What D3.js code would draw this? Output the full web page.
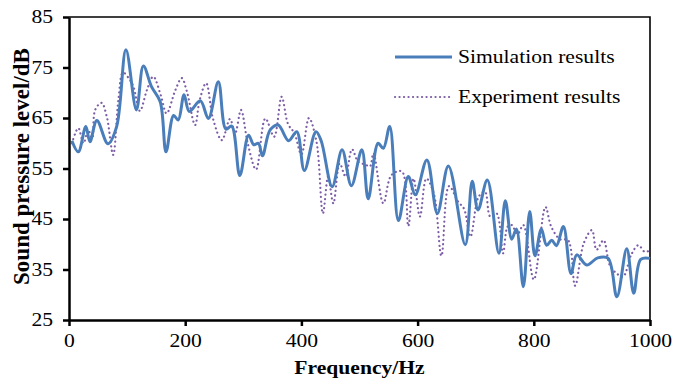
<!DOCTYPE html>
<html>
<head>
<meta charset="utf-8">
<script src="https://cdn.jsdelivr.net/npm/d3@7"></script>
<style>
  body { margin: 0; background: #fff; }
  text { font-family: "Liberation Serif", "Times New Roman", serif; fill: #000; }
</style>
</head>
<body>
<svg id="chart" width="673" height="382"></svg>
<script>
// frequency (Hz) / sound pressure level (dB)
const simFreq = [5,16,29,36,48,67,82,98,116,128,142,157,167,180,188,198,207,226,240,257,270,280,294,309,318,326,333,346,360,378,392,405,425,434,453,470,486,504,515,532,541,552,567,584,596,616,634,653,682,694,704,720,740,751,762,770,782,793,802,813,822,831,839,851,864,874,891,910,928,943,960,972,984,1000]
const simLevel = [60.5,58.3,63.3,60.3,64.5,59.9,63.3,78.5,66.6,75.3,71.2,68.2,58.3,65.5,64.6,69.6,66.3,68.4,64.9,72.2,62.8,63.4,53.6,61.6,59.7,60,57.5,62.6,63.6,60.5,62.3,54.6,62.3,60.5,51.4,58.7,51.6,58.7,49,60,59,63.3,44.7,53.4,49.8,56.7,46.1,55.5,39.9,52.5,46.8,52.7,38.2,48.6,41,43,31.6,46.5,37.7,43,39.8,40.8,39.7,43.5,34.2,37.9,35.9,37.3,37.2,29.6,39.1,30.3,37,37.2]

const expFreq = [5,16,25,33,40,45,56,65,76,85,93,105,111,122,134,145,158,168,183,194,203,217,225,236,248,263,277,286,296,308,322,338,353,366,377,388,400,413,426,437,446,455,466,476,487,498,510,518,524,541,555,573,584,593,604,615,628,641,654,670,680,691,705,716,725,736,747,755,762,772,782,800,820,830,845,859,871,886,900,908,920,931,945,954,968,980,991,1000]
const expLevel = [60,63,60,62.6,61,66.6,68,65.3,57.7,68.6,74,72.5,71.2,66.4,70.5,73.2,69.5,65.9,70.5,72.9,70.2,63.6,68.6,71.9,64.8,60.6,64.8,62,66.6,59.8,54.8,64.9,61.3,69.2,63.8,62,57.8,65,60.3,46.1,53.4,48.1,56,53.4,58.8,56.3,55.8,55.4,58,48.1,53.7,54.4,43.6,53,45.5,53,50,37.7,51.5,48.4,47,41.5,49.4,50.4,45.5,46.1,38.2,43.5,43.8,42,43.8,33,47.4,43.5,41,40.8,31.8,40.2,42.8,38.9,40.8,35.8,34,33.6,38,39.8,38.5,38.8]

const xTicks = [0,200,400,600,800,1000]
const yTicks = [25,35,45,55,65,75,85]
const seriesNames = ["Simulation results", "Experiment results"]

const simColor = "#4a7ebb"
const expColor = "#7d5ea6"
const stretch = 1.2   // the original text is wider than plain Times

const svg = d3.select("#chart")
const margin = {top: 17, right: 23, bottom: 62, left: 69}
const width = 673 - margin.left - margin.right
const height = 382 - margin.top - margin.bottom
const g = svg.append("g").attr("transform", "translate(" + margin.left + "," + margin.top + ")")

const x = d3.scaleLinear().domain([0, 1000]).range([0, width])
const y = d3.scaleLinear().domain([25, 85]).range([height, 0])

const sim = simFreq.map((f, i) => ({f, v: simLevel[i]}))
const exp = expFreq.map((f, i) => ({f, v: expLevel[i]}))

const line = d3.line()
    .curve(d3.curveCatmullRom.alpha(0.5))
    .x(d => x(d.f))
    .y(d => y(d.v))

// frame (top and right)
g.append("path")
    .attr("d", "M0,0H" + width + "V" + height)
    .attr("fill", "none")
    .attr("stroke", "#000")
    .attr("stroke-width", 1.6)

g.append("path")
    .datum(exp)
    .attr("d", line)
    .attr("fill", "none")
    .attr("stroke", expColor)
    .attr("stroke-width", 2.2)
    .attr("stroke-linecap", "round")
    .attr("stroke-dasharray", "0.1 4.4")

g.append("path")
    .datum(sim)
    .attr("d", line)
    .attr("fill", "none")
    .attr("stroke", simColor)
    .attr("stroke-width", 3)
    .attr("stroke-linejoin", "round")

const xAxis = g.append("g")
    .attr("transform", "translate(0," + height + ")")
    .attr("font-family", "Liberation Serif")
    .call(d3.axisBottom(x).tickValues(xTicks).tickFormat(d3.format("d")).tickSize(6).tickPadding(8).tickSizeOuter(0))
xAxis.select(".domain").attr("stroke-width", 2.5)
xAxis.selectAll(".tick line").attr("stroke-width", 2.5)
xAxis.selectAll("text")
    .attr("font-size", 18)
    .attr("transform", "scale(" + stretch + ",1)")

const yAxis = g.append("g")
    .attr("font-family", "Liberation Serif")
    .call(d3.axisLeft(y).tickValues(yTicks).tickSize(6).tickPadding(11).tickSizeOuter(0))
yAxis.select(".domain").attr("stroke-width", 2.5)
yAxis.selectAll(".tick line").attr("stroke-width", 2.5)
yAxis.selectAll("text")
    .attr("font-size", 18)
    .attr("x", -16 / stretch)
    .attr("transform", "scale(" + stretch + ",1)")

g.append("text")
    .attr("transform", "translate(" + (width / 2) + "," + (height + 54) + ") scale(" + stretch + ",1)")
    .attr("text-anchor", "middle")
    .style("font-size", "18px")
    .style("font-weight", "bold")
    .text("Frequency/Hz")

g.append("text")
    .attr("transform", "translate(-40," + (height / 2 - 2) + ") rotate(-90)")
    .attr("text-anchor", "middle")
    .style("font-size", "23px")
    .style("font-weight", "bold")
    .text("Sound pressure level/dB")

// legend
const legend = g.selectAll(".legend")
    .data(seriesNames)
    .enter().append("g")
    .attr("class", "legend")
    .attr("transform", (d, i) => "translate(" + (326) + "," + (40 + i * 40) + ")")

legend.append("line")
    .attr("x1", 0).attr("x2", 57)
    .attr("stroke", (d, i) => i ? expColor : simColor)
    .attr("stroke-width", (d, i) => i ? 2.2 : 3)
    .attr("stroke-linecap", (d, i) => i ? "round" : "butt")
    .attr("stroke-dasharray", (d, i) => i ? "0.1 4.4" : null)

legend.append("text")
    .attr("transform", "translate(63,6) scale(" + stretch + ",1)")
    .style("font-size", "18px")
    .text(d => d)
</script>
</body>
</html>
